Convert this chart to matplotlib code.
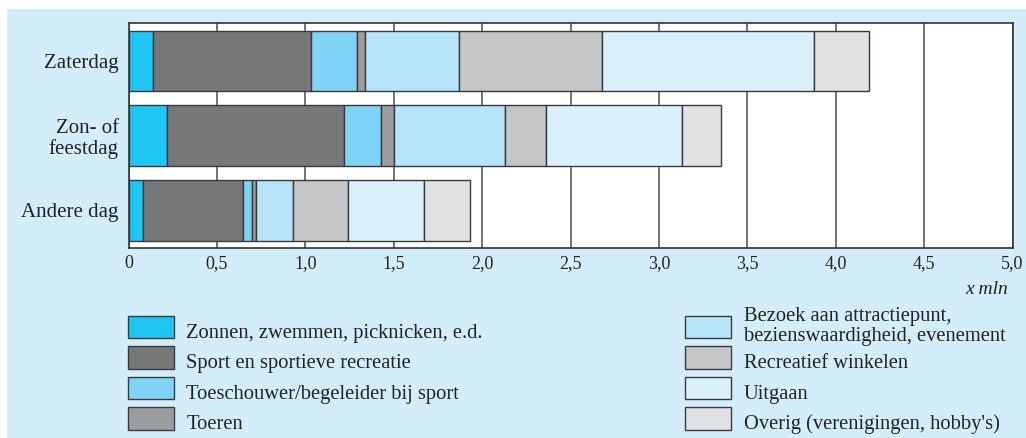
import matplotlib
matplotlib.use("Agg")
import matplotlib.pyplot as plt
from matplotlib.patches import Rectangle
import numpy as np

plt.rcParams['font.family'] = ['Liberation Serif', 'DejaVu Serif']

# Day types (top to bottom) and activity categories
days = ["Zaterdag", "Zon- of\nfeestdag", "Andere dag"]
activities = [
    "Zonnen, zwemmen, picknicken, e.d.",
    "Sport en sportieve recreatie",
    "Toeschouwer/begeleider bij sport",
    "Toeren",
    "Bezoek aan attractiepunt,\nbezienswaardigheid, evenement",
    "Recreatief winkelen",
    "Uitgaan",
    "Overig (verenigingen, hobby's)",
]
colors = ["#1FC6F4", "#767779", "#80D3F6", "#9C9D9F",
          "#B7E4F8", "#C5C6C8", "#DAF0FB", "#E0E1E3"]

# Number of people (x mln) per activity, one list per day type
zaterdag = [0.14, 0.89, 0.26, 0.05, 0.53, 0.81, 1.20, 0.31]
zondag = [0.22, 1.00, 0.21, 0.07, 0.63, 0.23, 0.77, 0.22]
andere_dag = [0.08, 0.57, 0.05, 0.02, 0.21, 0.31, 0.43, 0.26]

xticks = [0, 0.5, 1.0, 1.5, 2.0, 2.5, 3.0, 3.5, 4.0, 4.5, 5.0]
xticklabels = ["0", "0,5", "1,0", "1,5", "2,0", "2,5", "3,0", "3,5", "4,0", "4,5", "5,0"]

W, H = 1026, 438
TXT = "#222222"
fig = plt.figure(figsize=(W / 100, H / 100), dpi=100)
fig.patch.set_facecolor("white")

# light blue panel behind the chart
fig.patches.append(Rectangle((7 / W, 0), 1 - 7 / W, 1 - 9 / H, transform=fig.transFigure,
                             facecolor="#D3EEFA", edgecolor="none", zorder=-10))

ax = fig.add_axes([128.5 / W, 1 - 247.7 / H, (1012.5 - 128.5) / W, (247.7 - 23.4) / H])
ax.set_facecolor("white")

data = np.array([zaterdag, zondag, andere_dag])
ypos = np.arange(len(days))
left = np.zeros(len(days))
for j in range(len(activities)):
    ax.barh(ypos, data[:, j], left=left, height=0.81, color=colors[j],
            edgecolor="#3a3a3a", linewidth=1.0, zorder=3)
    left += data[:, j]

ax.set_xlim(0, 5.0)
ax.set_ylim(2.5, -0.5)
ax.set_xticks(xticks)
ax.set_xticklabels(xticklabels, fontsize=13, color=TXT)
ax.set_yticks(ypos)
ax.set_yticklabels(days, fontsize=15, color=TXT, ha="right",
                   multialignment="right", linespacing=1.1)
ax.tick_params(axis="both", length=0)
ax.tick_params(axis="y", pad=7)
ax.tick_params(axis="x", pad=5)
ax.grid(axis="x", color="#5a5a5a", linewidth=1.2, zorder=1)
ax.set_axisbelow(True)
for s in ax.spines.values():
    s.set_color("#333333")
    s.set_linewidth(1.2)

fig.text(1008 / W, 1 - 290 / H, "x mln", ha="right", va="center",
         fontsize=14, style="italic", color=TXT)

# legend drawn as two columns of swatches with labels
col_x = [127.5, 685]
text_x = [186.5, 744]
row_top = [315.7, 346, 376.5, 407]
for j, (lab, col) in enumerate(zip(activities, colors)):
    c, r = divmod(j, 4)
    y0 = row_top[r]
    fig.patches.append(Rectangle((col_x[c] / W, 1 - (y0 + 22.5) / H), 46 / W, 22.5 / H,
                                 transform=fig.transFigure, facecolor=col,
                                 edgecolor="#3a3a3a", linewidth=1.0))
    if "\n" in lab:
        fig.text(text_x[c] / W, 1 - (y0 + 10.5) / H, lab, ha="left", va="center",
                 fontsize=14.8, color=TXT, linespacing=1.05)
    else:
        fig.text(text_x[c] / W, 1 - (y0 + 17.5) / H, lab, ha="left", va="center",
                 fontsize=14.8, color=TXT)

fig.savefig("out.png", dpi=100)
